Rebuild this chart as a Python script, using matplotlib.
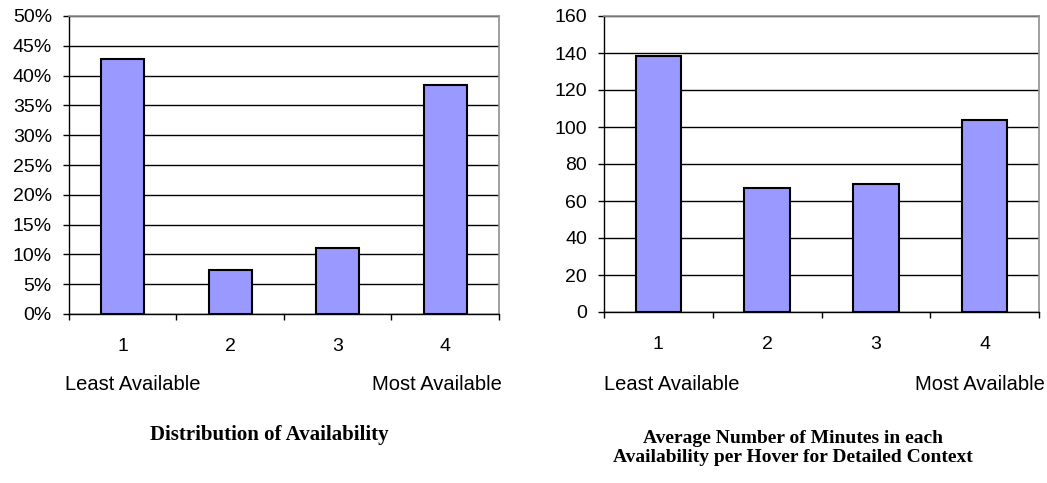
import matplotlib
matplotlib.use("Agg")
import matplotlib.pyplot as plt
from matplotlib.ticker import FuncFormatter, FixedLocator

# Data
categories = ["1", "2", "3", "4"]
availability_share = [42.8, 7.3, 11.0, 38.4]          # percent
avg_minutes = [138.3, 67.2, 69.2, 103.8]              # minutes

left_title = "Distribution of Availability"
right_title = "Average Number of Minutes in each\nAvailability per Hover for Detailed Context"
low_label = "Least Available"
high_label = "Most Available"

W, H = 1047, 483
fig = plt.figure(figsize=(W / 100, H / 100), dpi=100)
fig.patch.set_facecolor("white")

sans = ["Liberation Sans", "DejaVu Sans"]
serif = ["Liberation Serif", "DejaVu Serif"]
bar_color = "#9999FF"
tick_fs = 14


def px_axes(x0, y0, x1, y1):
    return fig.add_axes([x0 / W, 1 - y1 / H, (x1 - x0) / W, (y1 - y0) / H])


def style_axes(ax, ymax, step, fmt):
    ax.set_xlim(0.5, 4.5)
    ax.set_ylim(0, ymax)
    ax.set_yticks([i * step for i in range(int(round(ymax / step)) + 1)])
    ax.yaxis.set_major_formatter(FuncFormatter(fmt))
    ax.yaxis.grid(True, color="black", linewidth=1.0)
    ax.set_axisbelow(True)
    # category boundaries get the tick marks, category centres get the labels
    ax.xaxis.set_major_locator(FixedLocator([0.5, 1.5, 2.5, 3.5, 4.5]))
    ax.xaxis.set_major_formatter(FuncFormatter(lambda v, p: ""))
    ax.xaxis.set_minor_locator(FixedLocator([1, 2, 3, 4]))
    ax.set_xticklabels(categories, minor=True)
    ax.tick_params(axis="x", which="major", length=4.3, width=1, color="black")
    ax.tick_params(axis="x", which="minor", length=0, pad=17, labelsize=tick_fs)
    ax.tick_params(axis="y", length=4.3, width=1, color="black", pad=8,
                   labelsize=tick_fs)
    for lbl in ax.get_xticklabels(minor=True) + ax.get_yticklabels():
        lbl.set_fontfamily(sans)
    for s in ("left", "bottom"):
        ax.spines[s].set_color("black")
        ax.spines[s].set_linewidth(1.0)
    for s in ("top", "right"):
        ax.spines[s].set_color("#909090")
        ax.spines[s].set_linewidth(1.2)


ax1 = px_axes(69, 16, 499, 314)
ax1.bar(range(1, 5), availability_share, width=0.4, color=bar_color,
        edgecolor="black", linewidth=1.5, zorder=3)
style_axes(ax1, 50, 5, lambda v, p: f"{v:.0f}%")

ax2 = px_axes(604, 16, 1039, 312)
ax2.bar(range(1, 5), avg_minutes, width=0.42, color=bar_color,
        edgecolor="black", linewidth=1.5, zorder=3)
style_axes(ax2, 160, 20, lambda v, p: f"{v:.0f}")

# end labels under the category axis
lab_y = 1 - 385 / H
lab_fs = 14.5
fig.text(65 / W, lab_y, low_label, ha="left", va="center", fontsize=lab_fs, family=sans)
fig.text(502 / W, lab_y, high_label, ha="right", va="center", fontsize=lab_fs, family=sans)
fig.text(604 / W, lab_y, low_label, ha="left", va="center", fontsize=lab_fs, family=sans)
fig.text(1045 / W, lab_y, high_label, ha="right", va="center", fontsize=lab_fs, family=sans)

# captions
fig.text(269 / W, 1 - 435 / H, left_title, ha="center", va="center",
         fontsize=15, fontweight="bold", family=serif)
fig.text(793 / W, 1 - 448 / H, right_title, ha="center", va="center",
         fontsize=14, fontweight="bold", family=serif, linespacing=1.2)

fig.savefig("out.png", dpi=100, facecolor="white")
